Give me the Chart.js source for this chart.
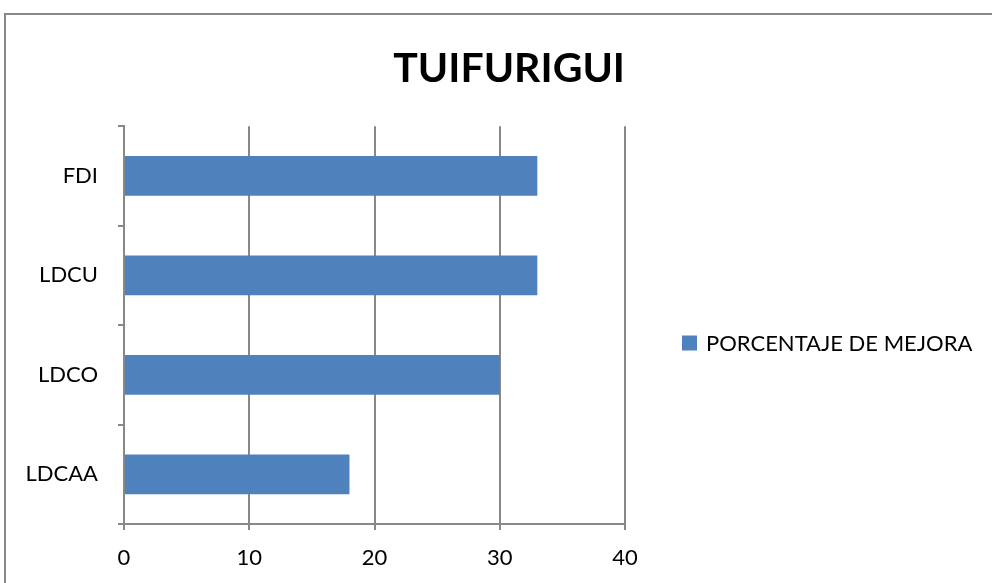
<!DOCTYPE html>
<html>
<head>
<meta charset="utf-8">
<script src="https://cdn.jsdelivr.net/npm/chart.js@4"></script>
<style>
  html, body { margin: 0; padding: 0; background: #fff; }
  #wrap { width: 992px; height: 583px; }
</style>
</head>
<body>
<div id="wrap"><canvas id="c"></canvas></div>
<script>
const categories = ['FDI', 'LDCU', 'LDCO', 'LDCAA'];
const mejora = [33, 33, 30, 18];
const seriesLabel = 'PORCENTAJE DE MEJORA';
const chartTitle = 'TUIFURIGUI';
const xTicks = [0, 10, 20, 30, 40];

const FONT = 'Lato, "Liberation Sans", sans-serif';
const GRAY = '#888888';
const BLUE = '#4F81BD';

// marco gris alrededor del gráfico
const frame = {
  id: 'frame',
  beforeDraw(chart) {
    const ctx = chart.ctx;
    ctx.save();
    ctx.strokeStyle = GRAY;
    ctx.lineWidth = 2;
    ctx.strokeRect(5, 14, 1100, 700);
    ctx.restore();
  }
};

// leyenda a la derecha, dibujada a mano para fijar su posición
const sideLegend = {
  id: 'sideLegend',
  afterDraw(chart) {
    const ctx = chart.ctx;
    const ds = chart.data.datasets[0];
    const x = chart.chartArea.right + 57;
    const y = 343;
    ctx.save();
    ctx.fillStyle = ds.backgroundColor;
    ctx.fillRect(x, y - 7.5, 15, 15);
    ctx.fillStyle = '#000';
    ctx.font = '22px ' + FONT;
    ctx.textBaseline = 'middle';
    ctx.fillText(ds.label, x + 24, y + 1);
    ctx.restore();
  }
};

new Chart(document.getElementById('c'), {
  type: 'bar',
  data: {
    labels: categories,
    datasets: [{
      label: seriesLabel,
      data: mejora,
      backgroundColor: BLUE,
      borderWidth: 0,
      barPercentage: 0.4,
      categoryPercentage: 1
    }]
  },
  options: {
    indexAxis: 'y',
    responsive: true,
    maintainAspectRatio: false,
    animation: false,
    layout: { padding: { left: 0, right: 367, top: 0, bottom: 0 } },
    plugins: {
      title: {
        display: true,
        text: chartTitle,
        align: 'end',
        color: '#000',
        font: { family: FONT, size: 41, weight: 'bold' },
        padding: { top: 44, bottom: 33 }
      },
      legend: { display: false },
      tooltip: { enabled: false }
    },
    scales: {
      x: {
        min: 0,
        max: 40,
        afterBuildTicks: s => { s.ticks = xTicks.map(v => ({ value: v })); },
        afterFit: s => { s.height = 59; },
        border: { color: GRAY, width: 2 },
        grid: { color: GRAY, lineWidth: 2, tickLength: 6, drawTicks: true },
        ticks: { color: '#000', font: { family: FONT, size: 22 }, padding: 15 }
      },
      y: {
        afterFit: s => { s.width = 124; },
        border: { color: GRAY, width: 2 },
        grid: { color: GRAY, lineWidth: 2, tickLength: 6, drawOnChartArea: false, offset: true },
        ticks: { color: '#000', font: { family: FONT, size: 22 }, padding: 20 }
      }
    }
  },
  plugins: [frame, sideLegend]
});
</script>
</body>
</html>
